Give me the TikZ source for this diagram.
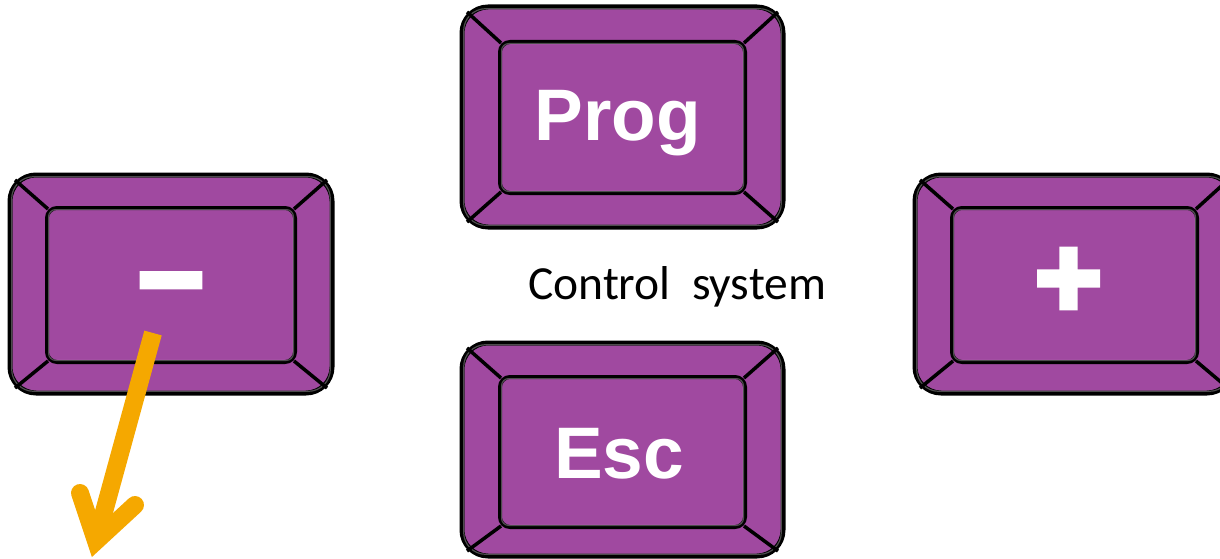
\documentclass[tikz,border=0pt]{standalone}
\usepackage{fontspec}
\usetikzlibrary{calc}
\newfontfamily\keyfont{Liberation Sans}
\newfontfamily\symfont{Liberation Sans Bold}[FakeBold=5]
\newfontfamily\capfont{Carlito}
\definecolor{keypurple}{RGB}{160,73,160}
\definecolor{arroworange}{RGB}{245,168,0}
\tikzset{
  outerkey/.style={rectangle, draw=black, line width=5pt, fill=keypurple, rounded corners=26pt, inner sep=0pt},
  innerkey/.style={rectangle, draw=black, line width=4pt, fill=keypurple, rounded corners=10pt, inner sep=0pt},
  bevel/.style={draw=black, line width=3.5pt},
  highlight/.style={draw=white, draw opacity=0.3, line width=1.2pt},
  keylabel/.style={text=white, font=\keyfont\bfseries\fontsize{73}{73}\selectfont, inner sep=0pt, anchor=base},
  symlabel/.style={text=white, font=\symfont\fontsize{114}{114}\selectfont, inner sep=0pt, anchor=center},
  arrowline/.style={draw=arroworange, line width=18pt},
}
\newcommand\keycap[9]{%
  \node[outerkey, minimum width=#4pt, minimum height=#5pt] (#1) at (#2,#3) {};
  \draw[highlight, rounded corners=22pt] ($(#1.north west)+(4.2,4.2)$) rectangle ($(#1.south east)+(-4.2,-4.2)$);
  \node[innerkey, minimum width=#8pt, minimum height=#9pt] (#1in) at (#6,#7) {};
  \draw[highlight, rounded corners=7pt] ($(#1in.north west)+(3.6,3.6)$) rectangle ($(#1in.south east)+(-3.6,-3.6)$);
  \draw[bevel] ($(#1in.north west)+(3,3)$) -- ($(#1.north west)+(7.5,7.5)$);
  \draw[bevel] ($(#1in.north east)+(-3,3)$) -- ($(#1.north east)+(-7.5,7.5)$);
  \draw[bevel] ($(#1in.south west)+(3,-3)$) -- ($(#1.south west)+(7.5,-7.5)$);
  \draw[bevel] ($(#1in.south east)+(-3,-3)$) -- ($(#1.south east)+(-7.5,-7.5)$);
}
\begin{document}
\begin{tikzpicture}[x=1pt,y=-1pt]
\useasboundingbox (0,0) rectangle (1220,559);
% keys
\keycap{kminus}{171}{284}{322}{218}{171}{285}{248}{154}
\keycap{kprog}{622.5}{117}{321}{220}{622.5}{117.5}{245}{151}
\keycap{kesc}{622.5}{449.5}{321}{213}{622.5}{452}{245}{150}
\keycap{kplus}{1074}{284}{318}{218}{1074.5}{285}{245}{154}
% labels
\node[keylabel] (tprog) at (618,140) {Prog};
\node[keylabel] (tesc) at (619,478) {Esc};
\node[symlabel] (tminus) at (171,296) {−};
\node[symlabel] (tplus) at (1068.5,283) {+};
\node[font=\capfont\fontsize{47.5}{47.5}\selectfont, inner sep=0pt, anchor=base west] (ctrl) at (528,299) {Control~~system};
% arrow
\coordinate (arrowtail) at (153,333);
\coordinate (arrowvertex) at (96,541);
\coordinate (barbl) at (80,493);
\coordinate (barbr) at (135,505);
\draw[arrowline, line cap=butt] (arrowtail) -- (arrowvertex);
\draw[arrowline, line cap=round, line join=miter] (barbl) -- (arrowvertex) -- (barbr);
\end{tikzpicture}
\end{document}
